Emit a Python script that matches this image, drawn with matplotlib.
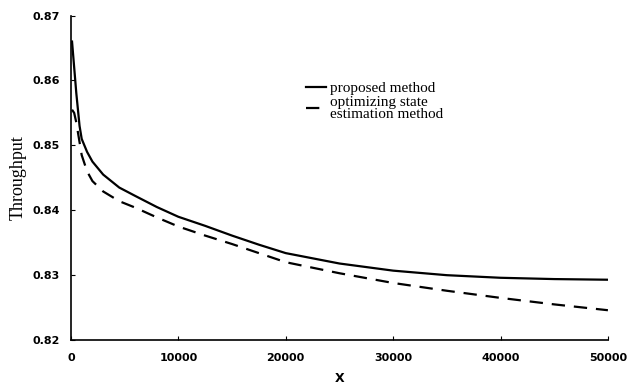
import matplotlib.pyplot as plt

# values
x = [100, 300, 500, 800, 1000, 1500, 2000, 3000, 4500, 6000, 8000, 10000,
     12500, 15000, 17500, 20000, 25000, 30000, 35000, 40000, 45000, 50000]
proposed = [0.866, 0.862, 0.858, 0.853, 0.851, 0.849, 0.8475, 0.8455, 0.8435,
            0.8422, 0.8405, 0.8390, 0.8376, 0.8361, 0.8347, 0.8334, 0.8318,
            0.8307, 0.8300, 0.8296, 0.8294, 0.8293]
optimizing = [0.8555, 0.8550, 0.8535, 0.8505, 0.8485, 0.8460, 0.8445, 0.8429,
              0.8414, 0.8404, 0.8389, 0.8375, 0.8361, 0.8348, 0.8334, 0.8320,
              0.8303, 0.8288, 0.8276, 0.8265, 0.8255, 0.8246]
xticks = [0, 10000, 20000, 30000, 40000, 50000]
yticks = [0.82, 0.83, 0.84, 0.85, 0.86, 0.87]

fig = plt.figure(figsize=(6.28, 3.9), dpi=100)
ax = fig.add_axes([0.113, 0.128, 0.855, 0.832])

ax.plot(x, proposed, color="black", linewidth=1.6, label="proposed method")
ax.plot(x, optimizing, color="black", linewidth=1.6, linestyle=(0, (6, 4)),
        label="optimizing state\nestimation method")

ax.set_xlim(0, 50000)
ax.set_ylim(0.82, 0.87)
ax.set_xticks(xticks)
ax.set_yticks(yticks)
ax.set_yticklabels(["%.2f" % v for v in yticks])
ax.tick_params(direction="in", length=3, labelsize=8)
ax.tick_params(axis="x", pad=9)
ax.tick_params(axis="y", pad=8)
for lab in ax.get_xticklabels() + ax.get_yticklabels():
    lab.set_fontweight("bold")

ax.spines["top"].set_visible(False)
ax.spines["right"].set_visible(False)
ax.spines["left"].set_linewidth(1.2)
ax.spines["bottom"].set_linewidth(1.2)

ax.set_ylabel("Throughput", family="Liberation Serif", fontsize=13, labelpad=4)
ax.set_xlabel("X", fontweight="bold", fontsize=9, labelpad=7)

leg = ax.legend(loc="upper left", bbox_to_anchor=(0.412, 0.84), frameon=False,
                prop={"family": "Liberation Serif", "size": 11},
                handlelength=1.3, handletextpad=0.3, labelspacing=0.05)
for t in leg.get_texts():
    t.set_linespacing(0.95)

fig.savefig("out.png", dpi=100)
